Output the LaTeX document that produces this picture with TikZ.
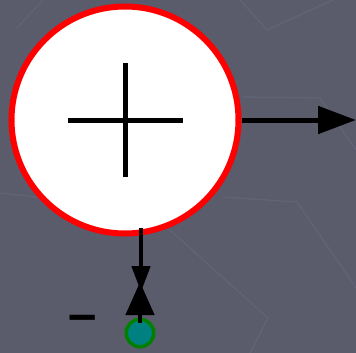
\documentclass[tikz,border=0pt]{standalone}
\usepackage{fontspec}
\newfontfamily\dashfont{Liberation Sans}
\usetikzlibrary{arrows.meta}
\usetikzlibrary{positioning}
\definecolor{slate}{HTML}{5A5B6B}
\definecolor{slatelight}{HTML}{626476}
\definecolor{darkgreen}{HTML}{008000}
\definecolor{tealfill}{HTML}{008080}

\begin{document}
\begin{tikzpicture}[x=1pt,y=-1pt,
faint/.style={draw=slatelight,line width=1.3},
wire/.style={line width=5},
sumnode/.style={circle,draw=red,line width=6,fill=white,inner sep=0,minimum size=227},
srcnode/.style={circle,draw=darkgreen,line width=3.5,fill=tealfill,inner sep=0,minimum size=27.5}]
\fill[slate] (0,0) rectangle (356,353);
\useasboundingbox (0,0) rectangle (356,353);
\draw[faint] (17,28) -- (43,0);
\draw[faint] (240,0) -- (267,30) -- (333,0);
\draw[faint] (243,97) -- (320,98) -- (356,150);
\draw[faint] (223,197) -- (297,202) -- (356,288);
\draw[faint] (170,230) -- (268,318) -- (250,353);
\draw[faint] (0,193) -- (63,200);
\node[sumnode] (sum) at (125,120) {};
\draw[wire] ([xshift=-57]sum.center) -- ([xshift=58]sum.center);
\draw[wire] ([yshift=-57]sum.center) -- ([yshift=57]sum.center);
\coordinate (out) at (356,120);
\draw[wire,-{Triangle[length=38,width=27]}] (sum.east) -- (out);
\node[srcnode] (src) at (140,333) {};
\coordinate (tap) at (141,228);
\coordinate (meet) at (141,292);
\coordinate (tip) at (140,282);
\draw[line width=4.5,-{Triangle[length=26,width=18]}] (tap) -- (meet);
\draw[line width=4.5,-{Triangle[length=33,width=28]}] ([yshift=10]src.center) -- (tip);
\node[anchor=base west,inner sep=0,font=\dashfont\bfseries\fontsize{51}{60}\selectfont] (minus) at (68,331) {–};
\end{tikzpicture}
\end{document}
